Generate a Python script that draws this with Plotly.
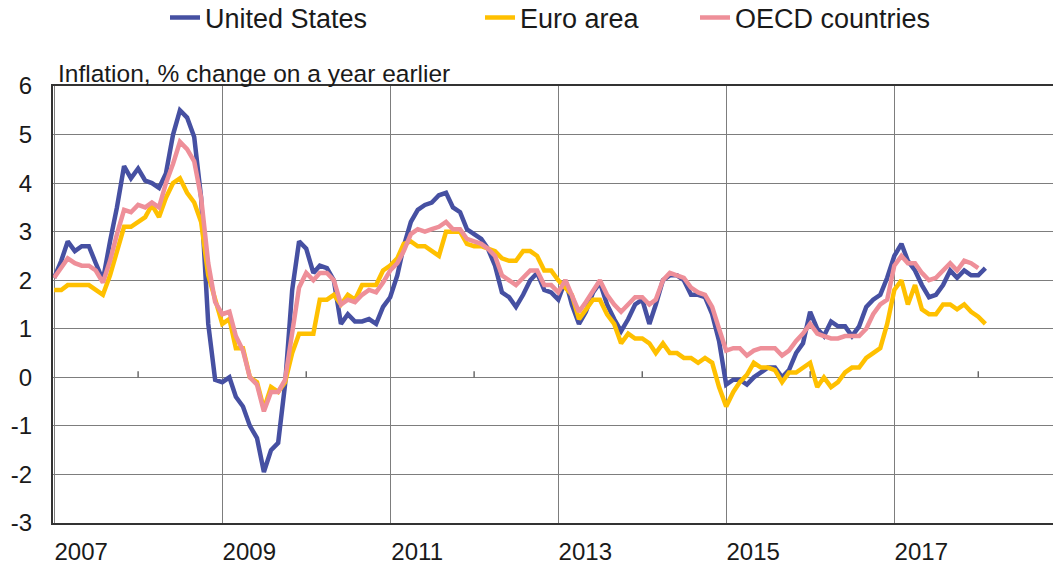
import pandas as pd
import plotly.graph_objects as go

# ---- Data (inflation, % change on a year earlier), monthly from Jan 2007 ----
us_2007 = [2.05, 2.4, 2.8, 2.6, 2.7, 2.7, 2.35, 2.0, 2.8, 3.5, 4.35, 4.1]
us_2008 = [4.3, 4.05, 4.0, 3.9, 4.2, 5.0, 5.5, 5.35, 4.95, 3.7, 1.1, -0.05]
us_2009 = [-0.1, 0.0, -0.4, -0.6, -1.0, -1.25, -1.95, -1.5, -1.35, -0.15, 1.8, 2.8]
us_2010 = [2.65, 2.15, 2.3, 2.25, 2.0, 1.1, 1.3, 1.15, 1.15, 1.2, 1.1, 1.45]
us_2011 = [1.65, 2.1, 2.7, 3.2, 3.45, 3.55, 3.6, 3.75, 3.8, 3.5, 3.4, 3.05]
us_2012 = [2.95, 2.85, 2.65, 2.3, 1.75, 1.65, 1.45, 1.7, 2.0, 2.15, 1.8, 1.75]
us_2013 = [1.6, 2.0, 1.5, 1.1, 1.35, 1.75, 1.95, 1.5, 1.2, 0.95, 1.2, 1.5]
us_2014 = [1.6, 1.1, 1.5, 2.0, 2.1, 2.1, 2.0, 1.7, 1.7, 1.65, 1.3, 0.75]
us_2015 = [-0.15, -0.05, -0.05, -0.15, 0.0, 0.1, 0.2, 0.2, 0.0, 0.15, 0.5, 0.7]
us_2016 = [1.35, 1.0, 0.85, 1.15, 1.05, 1.05, 0.85, 1.05, 1.45, 1.6, 1.7, 2.05]
us_2017 = [2.5, 2.75, 2.4, 2.2, 1.9, 1.65, 1.7, 1.9, 2.2, 2.05, 2.2, 2.1]
us_2018 = [2.1, 2.25]

euro_2007 = [1.8, 1.8, 1.9, 1.9, 1.9, 1.9, 1.8, 1.7, 2.1, 2.6, 3.1, 3.1]
euro_2008 = [3.2, 3.3, 3.55, 3.3, 3.7, 4.0, 4.1, 3.8, 3.6, 3.2, 2.1, 1.6]
euro_2009 = [1.1, 1.2, 0.6, 0.6, 0.0, -0.1, -0.65, -0.2, -0.3, -0.1, 0.5, 0.9]
euro_2010 = [0.9, 0.9, 1.6, 1.6, 1.7, 1.5, 1.7, 1.6, 1.9, 1.9, 1.9, 2.2]
euro_2011 = [2.3, 2.45, 2.75, 2.8, 2.7, 2.7, 2.6, 2.5, 3.0, 3.0, 3.0, 2.75]
euro_2012 = [2.7, 2.7, 2.65, 2.6, 2.45, 2.4, 2.4, 2.6, 2.6, 2.5, 2.2, 2.2]
euro_2013 = [2.0, 1.85, 1.7, 1.2, 1.4, 1.6, 1.6, 1.3, 1.1, 0.7, 0.9, 0.8]
euro_2014 = [0.8, 0.7, 0.5, 0.7, 0.5, 0.5, 0.4, 0.4, 0.3, 0.4, 0.3, -0.2]
euro_2015 = [-0.6, -0.3, -0.1, 0.05, 0.3, 0.2, 0.2, 0.15, -0.1, 0.1, 0.1, 0.2]
euro_2016 = [0.3, -0.2, 0.0, -0.2, -0.1, 0.1, 0.2, 0.2, 0.4, 0.5, 0.6, 1.1]
euro_2017 = [1.8, 2.0, 1.5, 1.9, 1.4, 1.3, 1.3, 1.5, 1.5, 1.4, 1.5, 1.35]
euro_2018 = [1.25, 1.1]

oecd_2007 = [2.05, 2.25, 2.45, 2.35, 2.3, 2.3, 2.2, 1.95, 2.4, 2.95, 3.45, 3.4]
oecd_2008 = [3.55, 3.5, 3.6, 3.5, 4.0, 4.4, 4.85, 4.7, 4.45, 3.7, 2.35, 1.55]
oecd_2009 = [1.3, 1.35, 0.85, 0.55, 0.0, -0.15, -0.7, -0.3, -0.3, -0.05, 0.95, 1.85]
oecd_2010 = [2.15, 2.0, 2.15, 2.15, 2.0, 1.5, 1.6, 1.55, 1.7, 1.8, 1.75, 1.95]
oecd_2011 = [2.2, 2.35, 2.6, 2.95, 3.05, 3.0, 3.05, 3.1, 3.2, 3.05, 3.05, 2.85]
oecd_2012 = [2.8, 2.75, 2.65, 2.5, 2.1, 2.0, 1.9, 2.05, 2.2, 2.2, 1.9, 1.9]
oecd_2013 = [1.75, 2.0, 1.7, 1.35, 1.55, 1.8, 2.0, 1.7, 1.5, 1.35, 1.5, 1.65]
oecd_2014 = [1.65, 1.5, 1.6, 2.0, 2.15, 2.1, 2.05, 1.85, 1.75, 1.7, 1.45, 1.0]
oecd_2015 = [0.55, 0.6, 0.6, 0.45, 0.55, 0.6, 0.6, 0.6, 0.45, 0.55, 0.75, 0.9]
oecd_2016 = [1.1, 0.9, 0.85, 0.8, 0.8, 0.85, 0.85, 0.85, 1.0, 1.3, 1.5, 1.6]
oecd_2017 = [2.3, 2.5, 2.35, 2.35, 2.15, 2.0, 2.05, 2.2, 2.35, 2.2, 2.4, 2.35]
oecd_2018 = [2.25]

series_names = ["United States", "Euro area", "OECD countries"]
label_years = [2007, 2009, 2011, 2013, 2015, 2017]
minor_years = [2008, 2010, 2012, 2014, 2016, 2018]
y_ticks = [-3, -2, -1, 0, 1, 2, 3, 4, 5, 6]
chart_title = "Inflation, % change on a year earlier"

us = (us_2007 + us_2008 + us_2009 + us_2010 + us_2011 + us_2012 + us_2013
      + us_2014 + us_2015 + us_2016 + us_2017 + us_2018)
euro = (euro_2007 + euro_2008 + euro_2009 + euro_2010 + euro_2011 + euro_2012
        + euro_2013 + euro_2014 + euro_2015 + euro_2016 + euro_2017 + euro_2018)
oecd = (oecd_2007 + oecd_2008 + oecd_2009 + oecd_2010 + oecd_2011 + oecd_2012
        + oecd_2013 + oecd_2014 + oecd_2015 + oecd_2016 + oecd_2017 + oecd_2018)

def months(n):
    return pd.date_range("2007-01-01", periods=n, freq="MS")

colors = ["#4650a2", "#ffc000", "#ee8f99"]
FONT = "Arial, 'Liberation Sans', sans-serif"
TXT = "#1a1a1a"

W, H = 1053, 566

fig = go.Figure()
for name, vals, col, lg in zip(series_names, [us, euro, oecd], colors,
                               ["legend", "legend2", "legend3"]):
    fig.add_trace(go.Scatter(x=months(len(vals)), y=vals, mode="lines", name=name,
                             line=dict(color=col, width=4.5), legend=lg, showlegend=True))

# small tick marks on the zero line at mid-period years
for yr in minor_years:
    fig.add_shape(type="line", xref="x", yref="y", x0=f"{yr}-01-01", x1=f"{yr}-01-01",
                  ysizemode="pixel", yanchor=0, y0=0, y1=6,
                  line=dict(color="#555555", width=1.3))

fig.add_annotation(text=chart_title, xref="paper", yref="paper", x=0.003, y=1.029,
                   xanchor="left", yanchor="middle", showarrow=False,
                   font=dict(family=FONT, size=24.5, color=TXT))

grid = "#7d7d7d"
fig.update_layout(
    width=W, height=H,
    margin=dict(l=53, r=0, t=86, b=43, autoexpand=False),
    paper_bgcolor="white", plot_bgcolor="white",
    font=dict(family=FONT, color=TXT),
    showlegend=True,
    xaxis=dict(type="date", range=["2006-12-27", "2018-11-22"], automargin=False,
               tickvals=[f"{y}-01-01" for y in label_years],
               ticktext=[str(y) for y in label_years],
               ticklabelshift=27, ticklabelstandoff=6,
               showgrid=True, gridcolor=grid, gridwidth=1.3,
               showline=True, linecolor="#333333", linewidth=2, mirror=True,
               ticks="", tickfont=dict(size=24, family=FONT, color=TXT),
               zeroline=False),
    yaxis=dict(range=[-3, 6], tickvals=y_ticks, ticktext=[str(v) for v in y_ticks],
               automargin=False, showgrid=True, gridcolor=grid,
               gridwidth=1.3, showline=True, linecolor="#333333", linewidth=2,
               ticks="", ticklabelstandoff=14, zeroline=False,
               tickfont=dict(size=24, family=FONT, color=TXT)),
)
leg_common = dict(orientation="h", xref="container", yref="container",
                  yanchor="middle", y=1 - 18 / H, xanchor="left", visible=True,
                  font=dict(size=27, family=FONT, color=TXT),
                  bgcolor="rgba(0,0,0,0)", itemwidth=30)
fig.update_layout(
    legend=dict(x=165 / W, **leg_common),
    legend2=dict(x=480 / W, **leg_common),
    legend3=dict(x=695 / W, **leg_common),
)

# remove the default page margin so the figure fills the window exactly
fig.write_html("out.html", config={"displayModeBar": False},
               post_script="document.body.style.margin='0px';")
